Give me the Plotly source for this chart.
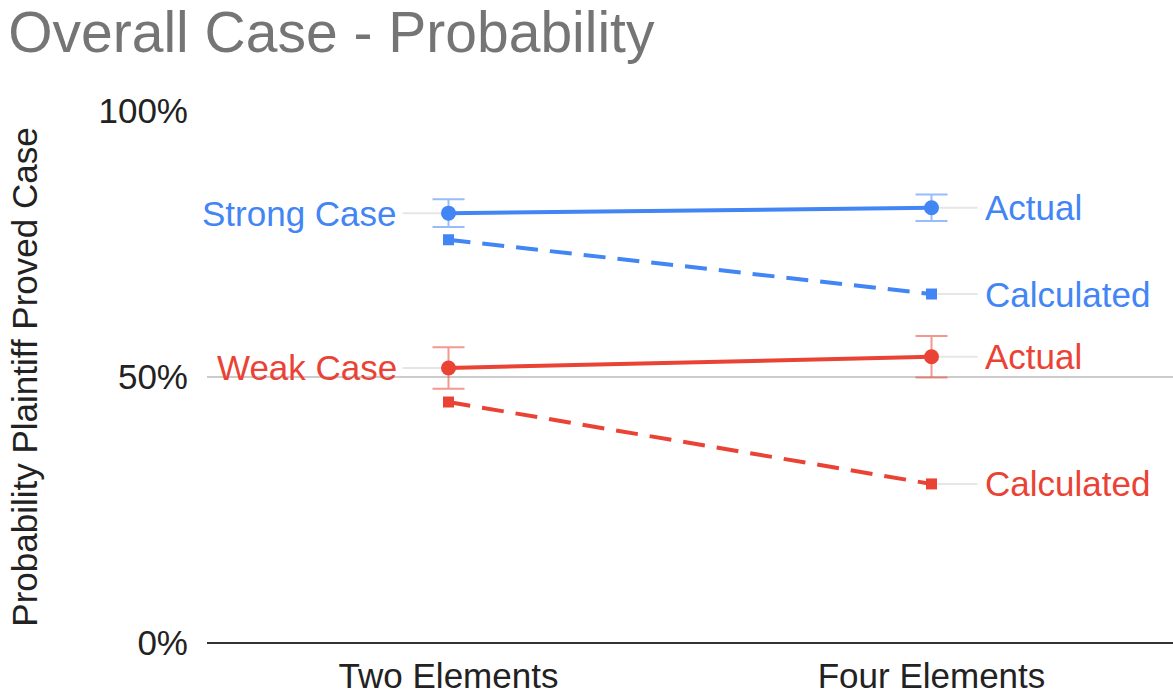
import plotly.graph_objects as go

categories = ["Two Elements", "Four Elements"]
strong_actual = [0.808, 0.818]
strong_actual_err = [0.026, 0.025]
strong_calc = [0.758, 0.656]
weak_actual = [0.517, 0.538]
weak_actual_err = [0.039, 0.039]
weak_calc = [0.453, 0.299]
y_ticks = [0, 0.5, 1.0]
y_ticklabels = ["0%", "50%", "100%"]

BLUE = "#4285F4"
RED = "#EA4335"
FONT = "Liberation Sans, Arial, sans-serif"

fig = go.Figure()

def add_series(y, color, dash, symbol, size, err=None, name=""):
    kw = {}
    if err is not None:
        c = color
        r, g, b = int(c[1:3], 16), int(c[3:5], 16), int(c[5:7], 16)
        kw["error_y"] = dict(type="data", array=err, visible=True,
                             color=f"rgba({r},{g},{b},0.55)", thickness=2, width=16)
    fig.add_trace(go.Scatter(
        x=[0, 1], y=y, mode="lines+markers", name=name,
        line=dict(color=color, width=4, dash=dash),
        marker=dict(color=color, symbol=symbol, size=size),
        showlegend=False, **kw))

# leader lines
LEADER = "#e6e6e6"
def leader(xc, yv, p0, p1):
    fig.add_shape(type="line", xref="x", yref="y", xsizemode="pixel", xanchor=xc,
                  x0=p0, x1=p1, y0=yv, y1=yv, line=dict(color=LEADER, width=2), layer="below")

leader(0, strong_actual[0], -46, -6)
leader(0, weak_actual[0], -46, -6)
leader(1, strong_actual[1], 6, 46)
leader(1, strong_calc[1], 6, 46)
leader(1, weak_actual[1], 6, 46)
leader(1, weak_calc[1], 6, 46)

add_series(strong_calc, BLUE, "22px,12px", "square", 11, name="Strong Calculated")
add_series(weak_calc, RED, "22px,12px", "square", 11, name="Weak Calculated")
add_series(strong_actual, BLUE, "solid", "circle", 15, strong_actual_err, "Strong Actual")
add_series(weak_actual, RED, "solid", "circle", 15, weak_actual_err, "Weak Actual")

def label(xc, yv, text, color, xshift, anchor):
    fig.add_annotation(x=xc, y=yv, xref="x", yref="y", text=text, showarrow=False,
                       xanchor=anchor, yanchor="middle", xshift=xshift,
                       font=dict(family=FONT, size=35, color=color), bgcolor="rgba(0,0,0,0)")

label(0, strong_actual[0], "Strong Case", BLUE, -50, "right")
label(0, weak_actual[0], "Weak Case", RED, -50, "right")
label(1, strong_actual[1], "Actual", BLUE, 51, "left")
label(1, strong_calc[1], "Calculated", BLUE, 51, "left")
label(1, weak_actual[1], "Actual", RED, 51, "left")
label(1, weak_calc[1], "Calculated", RED, 51, "left")

fig.update_layout(
    width=1173, height=695,
    margin=dict(l=207, r=0, t=111, b=52),
    paper_bgcolor="white", plot_bgcolor="white",
    font=dict(family=FONT, color="#222"),
    title=dict(text="Overall Case - Probability", x=0.007, xanchor="left",
               y=0.983, yanchor="top",
               font=dict(family=FONT, size=57, color="#757575")),
    xaxis=dict(type="linear", range=[-0.5, 1.5], tickvals=[0, 1], ticktext=categories,
               showgrid=False, zeroline=False, showline=False, automargin=False,
               tickfont=dict(family=FONT, size=35, color="#222"), ticks="",
               ticklabelstandoff=9),
    yaxis=dict(range=[0, 1.0], tickvals=y_ticks, ticktext=y_ticklabels,
               showgrid=True, gridcolor="#cccccc", gridwidth=2, automargin=False,
               zeroline=True, zerolinecolor="#333333", zerolinewidth=2,
               showline=False, ticks="", ticklabelstandoff=18,
               tickfont=dict(family=FONT, size=35, color="#222"),
               title=dict(text="Probability Plaintiff Proved Case", standoff=50,
                          font=dict(family=FONT, size=35, color="#222"))),
)

fig.write_html("out.html", config={"displayModeBar": False},
               post_script="document.body.style.margin='0';document.body.style.overflow='hidden';")
